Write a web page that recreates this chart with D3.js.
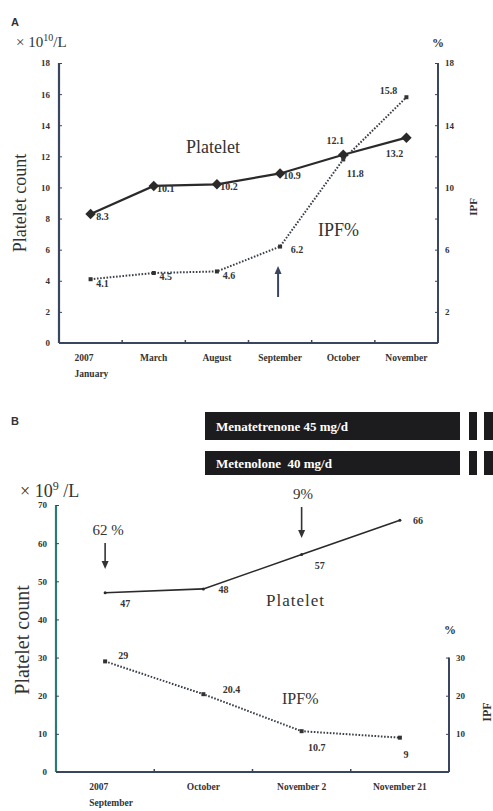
<!DOCTYPE html>
<html><head><meta charset="utf-8">
<script src="https://cdn.jsdelivr.net/npm/d3@7"></script>
<style>body{margin:0;background:#fff}svg{display:block}</style>
</head><body>
<svg id="c" width="493" height="811"></svg>
<script>
// Panel A data
const catsA = ["2007|January","March","August","September","October","November"];
const plateletA = [8.3, 10.1, 10.2, 10.9, 12.1, 13.2];
const ipfA = [4.1, 4.5, 4.6, 6.2, 11.8, 15.8];
const leftTicksA = [0,2,4,6,8,10,12,14,16,18];
const rightTickMarksA = [2,4,6,8,10,12,14,16,18];
const rightLabelsA = [2,6,10,14,18];
// Panel B data
const catsB = ["2007|September","October","November 2","November 21"];
const plateletB = [47, 48, 57, 66];
const ipfB = [29, 20.4, 10.7, 9];
const leftTicksB = [0,10,20,30,40,50,60,70];
const rightTicksB = [10,20,30];
const drugs = ["Menatetrenone 45 mg/d","Metenolone  40 mg/d"];

const svg = d3.select("#c");
const serif = "'Liberation Serif','DejaVu Serif',serif";
const ink = "#2a2a2a";

function panel(o){
  const g = svg.append("g");
  const x = d3.scaleBand().domain(o.cats).range([o.x0,o.x1]);
  const y = d3.scaleLinear().domain(o.yDom).range([o.y0,o.yTop]);
  const yR = d3.scaleLinear().domain(o.yDom).range([o.y0,o.yTop]);
  // left axis
  const la = g.append("g").attr("transform",`translate(${o.x0},0)`)
    .call(d3.axisLeft(y).tickValues(o.leftTicks).tickSize(3).tickPadding(6).tickFormat(d3.format("d")));
  la.select(".domain").attr("stroke",o.leftColor).attr("stroke-width",2.2).attr("d",`M0,${o.y0}V${o.yTop}`);
  la.selectAll(".tick line").attr("stroke",o.axisColor).attr("x2",3);
  la.selectAll(".tick text").attr("font-family",serif).attr("font-weight","bold").attr("font-size",9).attr("fill","#333");
  // bottom axis
  const bounds = o.cats.map(c=>x(c)).concat([o.x1]).slice(1,-1);
  const ba = g.append("g").attr("transform",`translate(0,${o.y0})`)
    .call(d3.axisBottom(x).tickSize(0).tickPadding(0).tickFormat(""));
  ba.select(".domain").attr("stroke",o.axisColor).attr("stroke-width",2).attr("d",`M${o.x0},0H${o.x1}`);
  ba.selectAll(".tick").remove();
  g.selectAll(".btk").data(bounds).join("line").attr("x1",d=>d).attr("x2",d=>d)
    .attr("y1",o.y0).attr("y2",o.y0-3).attr("stroke",o.axisColor).attr("stroke-width",1.5);
  // category labels
  o.cats.forEach(c=>{
    const parts=c.split("|");
    const t=g.append("text").attr("font-family",serif).attr("font-weight","bold").attr("font-size",o.catSize)
      .attr("fill","#333").attr("text-anchor",parts.length>1?"start":"middle");
    const xx = parts.length>1 ? x(c)+x.bandwidth()/2-16 : x(c)+x.bandwidth()/2;
    parts.forEach((p,i)=>t.append("tspan").attr("x",xx).attr("y",o.y0+o.catDy+i*16).text(p));
  });
  // right axis
  const ra = g.append("g").attr("transform",`translate(${o.x1},0)`)
    .call(d3.axisRight(yR).tickValues(o.rightMarks).tickSize(-3).tickPadding(7)
      .tickFormat(d=>o.rightLabels.includes(d)?d:""));
  ra.select(".domain").attr("stroke",o.axisColor).attr("stroke-width",2).attr("d",`M0,${o.y0}V${yR(o.rightTop)}`);
  ra.selectAll(".tick line").attr("stroke",o.axisColor);
  ra.selectAll(".tick text").attr("font-family",serif).attr("font-weight","bold").attr("font-size",9).attr("fill","#333");
  // lines
  const cx = i=>x(o.cats[i])+x.bandwidth()/2;
  const lineP = d3.line().x((d,i)=>cx(i)).y(d=>y(d));
  g.append("path").attr("d",lineP(o.plat)).attr("fill","none").attr("stroke",ink).attr("stroke-width",o.platW);
  const lineI = d3.line().x((d,i)=>cx(i)).y(d=>yR(d));
  g.append("path").attr("d",lineI(o.ipf)).attr("fill","none").attr("stroke","#3a3f4a")
    .attr("stroke-width",2).attr("stroke-dasharray","1.6,1.6");
  // markers
  if(o.diamond){
    g.selectAll(".dm").data(o.plat).join("path")
      .attr("d",d3.symbol(d3.symbolDiamond2,o.diamond))
      .attr("transform",(d,i)=>`translate(${cx(i)},${y(d)})`).attr("fill",ink);
  } else {
    g.selectAll(".dm").data(o.plat).join("circle").attr("cx",(d,i)=>cx(i)).attr("cy",d=>y(d)).attr("r",1.5).attr("fill",ink);
  }
  g.selectAll(".sq").data(o.ipf).join("rect").attr("x",(d,i)=>cx(i)-2).attr("y",d=>yR(d)-2)
    .attr("width",4).attr("height",4).attr("fill","#333");
  // value labels
  const lab=(v,i,sc,off)=>g.append("text").attr("x",cx(i)+off[0]).attr("y",sc(v)+off[1])
    .attr("font-family",serif).attr("font-weight","bold").attr("font-size",o.valSize).attr("fill","#333")
    .attr("text-anchor","middle").text(v);
  o.plat.forEach((v,i)=>lab(v,i,y,o.platOff[i]));
  o.ipf.forEach((v,i)=>lab(v,i,yR,o.ipfOff[i]));
  return {x,y,yR,cx,g};
}

// Panel A
const A = panel({cats:catsA,x0:59,x1:438,y0:343,yTop:63,yDom:[0,18],
  leftTicks:leftTicksA,rightMarks:rightTickMarksA,rightLabels:rightLabelsA,rightTop:18,
  leftColor:"#3a4660",axisColor:"#3a4660",plat:plateletA,ipf:ipfA,platW:2.2,diamond:70,
  catSize:9.5,catDy:18,valSize:10,
  platOff:[[12,6],[12,6],[12,6],[12,6],[-8,-11],[-12,19]],
  ipfOff:[[12,8],[12,7],[12,8],[17,6],[12,18],[-18,-3]]});
// Panel A texts
svg.append("text").attr("x",11).attr("y",26).attr("font-family","'Liberation Sans',Arial,sans-serif")
  .attr("font-weight","bold").attr("font-size",11).attr("fill","#333").text("A");
const uA=svg.append("text").attr("x",16).attr("y",47).attr("font-family",serif).attr("font-size",15).attr("fill","#333");
uA.append("tspan").text("× 10");uA.append("tspan").attr("dy",-6).attr("font-size",10).text("10");
uA.append("tspan").attr("dy",6).text("/L");
svg.append("text").attr("x",432).attr("y",47).attr("font-family",serif).attr("font-weight","bold").attr("font-size",12).attr("fill","#333").text("%");
svg.append("text").attr("transform","translate(26,203) rotate(-90)").attr("text-anchor","middle")
  .attr("font-family",serif).attr("font-size",18).attr("fill","#333").text("Platelet count");
svg.append("text").attr("transform","translate(477,207) rotate(-90)").attr("text-anchor","middle")
  .attr("font-family",serif).attr("font-weight","bold").attr("font-size",11).attr("fill","#333").text("IPF");
svg.append("text").attr("x",186).attr("y",153).attr("font-family",serif).attr("font-size",18).attr("fill","#333").text("Platelet");
svg.append("text").attr("x",318).attr("y",236).attr("font-family",serif).attr("font-size",18).attr("fill","#333").text("IPF%");
// arrow A
svg.append("line").attr("x1",A.cx(3)-2).attr("x2",A.cx(3)-2).attr("y1",297).attr("y2",272).attr("stroke","#3a4660").attr("stroke-width",2);
svg.append("path").attr("d",`M${A.cx(3)-2},266 l-3.5,8 h7 z`).attr("fill","#3a4660");

// Panel B
const B = panel({cats:catsB,x0:56,x1:449,y0:772,yTop:505,yDom:[0,70],
  leftTicks:leftTicksB,rightMarks:rightTicksB,rightLabels:rightTicksB,rightTop:30,
  leftColor:"#2d7a74",axisColor:"#3a4660",plat:plateletB,ipf:ipfB,platW:1.6,diamond:0,
  catSize:9.5,catDy:18,valSize:10,
  platOff:[[20,14],[20,4],[18,14],[18,4]],
  ipfOff:[[18,-2],[28,-1],[15,20],[6,20]]});
svg.append("text").attr("x",11).attr("y",425).attr("font-family","'Liberation Sans',Arial,sans-serif")
  .attr("font-weight","bold").attr("font-size",11).attr("fill","#333").text("B");
const uB=svg.append("text").attr("x",20).attr("y",497).attr("font-family",serif).attr("font-size",18).attr("fill","#333");
uB.append("tspan").text("× 10");uB.append("tspan").attr("dy",-7).attr("font-size",12).text("9");
uB.append("tspan").attr("dy",7).text(" /L");
svg.append("text").attr("x",444).attr("y",634).attr("font-family",serif).attr("font-weight","bold").attr("font-size",12).attr("fill","#333").text("%");
svg.append("text").attr("transform","translate(29,640) rotate(-90)").attr("text-anchor","middle")
  .attr("font-family",serif).attr("font-size",20).attr("fill","#333").text("Platelet count");
svg.append("text").attr("transform","translate(491,712) rotate(-90)").attr("text-anchor","middle")
  .attr("font-family",serif).attr("font-weight","bold").attr("font-size",12).attr("fill","#333").text("IPF");
svg.append("text").attr("x",266).attr("y",606).attr("font-family",serif).attr("font-size",17).attr("letter-spacing",1).attr("fill","#333").text("Platelet");
svg.append("text").attr("x",282).attr("y",704).attr("font-family",serif).attr("font-size",16).attr("fill","#333").text("IPF%");
// arrows B
function downArrow(xx,y1,y2,label,lx){
  svg.append("text").attr("x",lx).attr("y",y1-8).attr("font-family",serif).attr("font-size",15).attr("fill","#333").attr("text-anchor","middle").text(label);
  svg.append("line").attr("x1",xx).attr("x2",xx).attr("y1",y1).attr("y2",y2-6).attr("stroke","#333").attr("stroke-width",1.6);
  svg.append("path").attr("d",`M${xx},${y2} l-3.5,-8 h7 z`).attr("fill","#333");
}
downArrow(B.cx(0),543,569,"62 %",108);
downArrow(B.cx(2),507,538,"9%",303);
// drug bars
const bars=[{y:412,h:28},{y:451,h:24}];
drugs.forEach((d,i)=>{
  const b=bars[i];
  svg.append("rect").attr("x",205).attr("y",b.y).attr("width",255).attr("height",b.h).attr("fill","#1c1c1f");
  svg.append("rect").attr("x",469).attr("y",b.y).attr("width",8).attr("height",b.h).attr("fill","#1c1c1f");
  svg.append("rect").attr("x",484).attr("y",b.y).attr("width",9).attr("height",b.h).attr("fill","#1c1c1f");
  svg.append("text").attr("x",216).attr("y",b.y+b.h/2+5).attr("font-family",serif).attr("font-weight","bold")
    .attr("font-size",13).attr("fill","#fff").attr("xml:space","preserve").style("white-space","pre").text(d);
});
</script>
</body></html>
